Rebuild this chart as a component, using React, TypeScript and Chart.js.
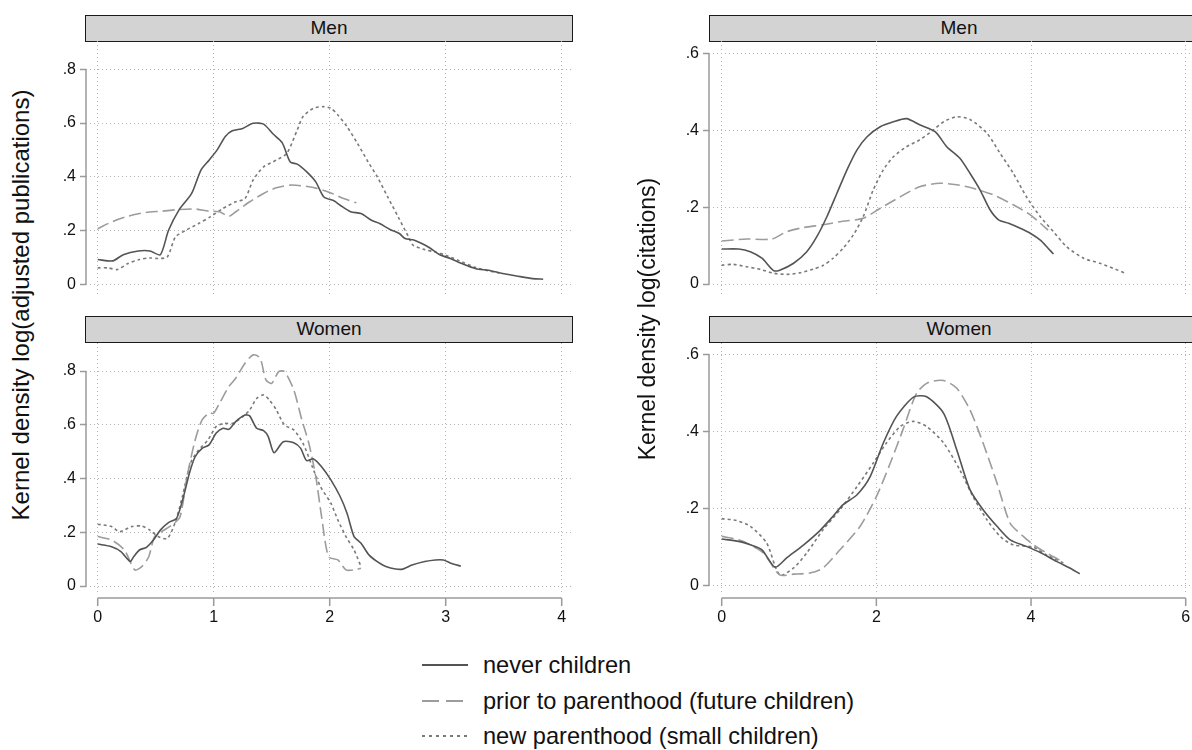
import React, { useEffect, useRef } from 'react';
import { Chart, registerables } from 'chart.js';

Chart.register(...registerables);

// ---------- labels ----------
const SERIES_LABELS = [
  'never children',
  'prior to parenthood (future children)',
  'new parenthood (small children)',
];
const PANEL_TITLES = ['Men', 'Women'];
const Y_TITLES = ['Kernel density log(adjusted publications)', 'Kernel density log(citations)'];

// ---------- ticks ----------
const PUB_X_TICKS = [0, 1, 2, 3, 4];
const PUB_X_TICK_LABELS = ['0', '1', '2', '3', '4'];
const PUB_Y_TICKS = [0, 0.2, 0.4, 0.6, 0.8];
const PUB_Y_TICK_LABELS = ['0', '.2', '.4', '.6', '.8'];
const CIT_X_TICKS = [0, 2, 4, 6];
const CIT_X_TICK_LABELS = ['0', '2', '4', '6'];
const CIT_Y_TICKS = [0, 0.2, 0.4, 0.6];
const CIT_Y_TICK_LABELS = ['0', '.2', '.4', '.6'];

// ---------- data: log(adjusted publications), men ----------
const pubMenNeverX = [0, .13, .22, .35, .45, .54, .61, .70, .81, .89, .96, 1.03, 1.10, 1.16, 1.25, 1.34, 1.43, 1.51, 1.59, 1.66, 1.72, 1.80, 1.88, 1.95, 2.04, 2.09, 2.18, 2.27, 2.36, 2.43, 2.52, 2.60, 2.65, 2.73, 2.85, 2.95, 3.04, 3.14, 3.26, 3.37, 3.49, 3.61, 3.75, 3.84];
const pubMenNeverY = [.092, .087, .11, .124, .124, .11, .20, .276, .338, .425, .462, .50, .55, .571, .58, .599, .596, .56, .527, .455, .447, .419, .381, .325, .31, .294, .27, .263, .238, .226, .204, .189, .17, .164, .139, .11, .096, .077, .058, .052, .04, .031, .021, .019];
const pubMenPriorX = [0, .12, .26, .41, .55, .70, .84, .96, 1.05, 1.13, 1.19, 1.31, 1.43, 1.54, 1.66, 1.77, 1.89, 2.01, 2.12, 2.23];
const pubMenPriorY = [.207, .232, .253, .267, .272, .278, .28, .272, .27, .253, .27, .307, .338, .359, .369, .366, .357, .34, .319, .303];
const pubMenNewX = [0, .09, .17, .26, .36, .45, .52, .60, .67, .76, .87, .97, 1.08, 1.19, 1.27, 1.34, 1.43, 1.54, 1.63, 1.72, 1.77, 1.86, 1.95, 2.01, 2.07, 2.15, 2.24, 2.33, 2.41, 2.50, 2.59, 2.68, 2.72, 2.82, 2.91, 3.0, 3.11, 3.26, 3.37, 3.46];
const pubMenNewY = [.061, .061, .055, .077, .092, .098, .096, .102, .176, .201, .226, .251, .282, .307, .319, .388, .437, .462, .487, .574, .624, .655, .661, .655, .63, .586, .524, .456, .40, .325, .251, .176, .145, .129, .12, .108, .089, .062, .05, .042];

// ---------- data: log(adjusted publications), women ----------
const pubWomenNeverX = [0, .12, .20, .28, .31, .36, .42, .48, .54, .61, .68, .74, .79, .84, .90, .96, 1.02, 1.08, 1.13, 1.19, 1.27, 1.31, 1.37, 1.43, 1.47, 1.52, 1.60, 1.69, 1.75, 1.80, 1.86, 1.93, 2.01, 2.09, 2.15, 2.21, 2.27, 2.34, 2.41, 2.49, 2.62, 2.71, 2.82, 2.91, 2.98, 3.05, 3.13];
const pubWomenNeverY = [.156, .146, .128, .091, .109, .134, .144, .171, .208, .236, .252, .333, .419, .481, .512, .525, .568, .587, .583, .612, .636, .633, .587, .578, .556, .496, .537, .533, .512, .467, .473, .444, .395, .333, .27, .184, .159, .115, .091, .072, .062, .078, .091, .097, .097, .084, .074];
const pubWomenPriorX = [0, .12, .23, .32, .38, .44, .49, .55, .64, .71, .77, .84, .90, .96, 1.0, 1.05, 1.13, 1.19, 1.27, 1.34, 1.40, 1.45, 1.50, 1.56, 1.61, 1.69, 1.76, 1.82, 1.88, 1.93, 1.99, 2.07, 2.14, 2.21, 2.27];
const pubWomenPriorY = [.184, .171, .134, .06, .072, .109, .184, .202, .227, .258, .407, .543, .618, .643, .643, .68, .742, .773, .829, .86, .848, .767, .754, .798, .798, .73, .618, .531, .407, .258, .109, .097, .06, .06, .066];
const pubWomenNewX = [0, .12, .19, .29, .38, .45, .52, .60, .67, .73, .80, .87, .95, 1.02, 1.09, 1.16, 1.25, 1.31, 1.37, 1.43, 1.48, 1.54, 1.61, 1.69, 1.77, 1.85, 1.92, 2.01, 2.07, 2.14, 2.21, 2.27];
const pubWomenNewY = [.23, .221, .202, .221, .223, .208, .184, .177, .239, .333, .457, .506, .543, .593, .605, .605, .63, .655, .698, .711, .692, .655, .599, .581, .531, .444, .37, .308, .246, .184, .134, .072];

// ---------- data: log(citations), men ----------
const citMenNeverX = [0, .22, .37, .52, .67, .75, .93, 1.10, 1.23, 1.36, 1.49, 1.62, 1.75, 1.88, 2.05, 2.22, 2.39, 2.56, 2.76, 2.91, 3.08, 3.21, 3.34, 3.47, 3.58, 3.71, 3.86, 3.99, 4.12, 4.22, 4.29];
const citMenNeverY = [.091, .091, .084, .067, .035, .036, .054, .084, .123, .175, .236, .297, .349, .383, .409, .422, .43, .414, .396, .357, .327, .288, .245, .193, .167, .158, .145, .132, .114, .093, .078];
const citMenPriorX = [0, .32, .65, .84, 1.06, 1.31, 1.53, 1.83, 2.05, 2.31, 2.56, 2.82, 3.04, 3.25, 3.51, 3.77, 3.99, 4.12, 4.22];
const citMenPriorY = [.112, .117, .117, .136, .147, .154, .162, .171, .197, .227, .253, .262, .258, .249, .232, .206, .18, .158, .14];
const citMenNewX = [0, .15, .32, .50, .67, .84, 1.01, 1.19, 1.31, 1.44, 1.57, 1.70, 1.83, 1.96, 2.09, 2.22, 2.39, 2.56, 2.74, 2.87, 3.04, 3.21, 3.43, 3.60, 3.77, 3.94, 4.12, 4.29, 4.46, 4.68, 4.89, 5.06, 5.22];
const citMenNewY = [.049, .051, .045, .038, .028, .025, .029, .039, .048, .067, .093, .127, .175, .245, .297, .331, .357, .375, .401, .422, .435, .428, .392, .34, .288, .227, .175, .136, .097, .067, .054, .041, .028];

// ---------- data: log(citations), women ----------
const citWomenNeverX = [0, .22, .37, .52, .69, .84, 1.06, 1.27, 1.44, 1.57, 1.75, 1.92, 2.09, 2.26, 2.48, 2.65, 2.87, 3.04, 3.21, 3.38, 3.56, 3.73, 3.94, 4.12, 4.33, 4.50, 4.63];
const citWomenNeverY = [.121, .115, .106, .093, .048, .072, .106, .143, .18, .21, .236, .283, .37, .439, .489, .49, .447, .352, .249, .197, .154, .119, .102, .086, .063, .046, .031];
const citWomenPriorX = [0, .22, .37, .54, .75, .93, 1.14, 1.31, 1.53, 1.79, 2.0, 2.18, 2.35, 2.52, 2.67, 2.87, 3.04, 3.21, 3.38, 3.56, 3.73, 3.90, 4.03, 4.20, 4.42];
const citWomenPriorY = [.128, .119, .106, .085, .028, .03, .033, .046, .093, .154, .231, .318, .408, .499, .527, .532, .512, .456, .37, .266, .162, .128, .106, .085, .061];
const citWomenNewX = [0, .19, .37, .58, .75, .93, 1.10, 1.31, 1.53, 1.75, 1.96, 2.13, 2.31, 2.48, 2.65, 2.87, 3.08, 3.25, 3.43, 3.60, 3.77, 4.03, 4.20, 4.42];
const citWomenNewY = [.174, .169, .154, .111, .028, .046, .085, .145, .197, .257, .318, .37, .413, .426, .413, .37, .30, .231, .171, .128, .106, .10, .08, .059];

// ---------- styles ----------
const FONT = "'Liberation Sans', Arial, Helvetica, sans-serif";
const SERIES_STYLES = [
  { color: '#545454', dash: [] as number[], legendDash: '' },
  { color: '#9c9c9c', dash: [12, 5], legendDash: '17 7' },
  { color: '#7a7a7a', dash: [3, 3], legendDash: '3 4' },
];
const GRID_COLOR = '#b4b4b4';
const AXIS_COLOR = '#9a9a9a';

const zip = (xs: number[], ys: number[]) => xs.map((x, i) => ({ x, y: ys[i] }));

const axesPlugin = {
  id: 'stataAxes',
  afterDraw(chart: any, _args: any, opts: any) {
    const { ctx, chartArea, scales } = chart;
    const xs = scales.x;
    const ys = scales.y;
    ctx.save();
    ctx.strokeStyle = AXIS_COLOR;
    ctx.lineWidth = 1.5;
    const yt = ys.ticks;
    ctx.beginPath();
    ctx.moveTo(chartArea.left, ys.getPixelForValue(yt[0].value));
    ctx.lineTo(chartArea.left, ys.getPixelForValue(yt[yt.length - 1].value));
    ctx.stroke();
    if (opts && opts.showX) {
      const yy = chartArea.bottom + 5;
      const xt = xs.ticks;
      ctx.beginPath();
      ctx.moveTo(xs.getPixelForValue(xt[0].value), yy);
      ctx.lineTo(xs.getPixelForValue(xt[xt.length - 1].value), yy);
      xt.forEach((t: any) => {
        const px = xs.getPixelForValue(t.value);
        ctx.moveTo(px, yy);
        ctx.lineTo(px, yy + 8);
      });
      ctx.stroke();
    }
    ctx.restore();
  },
};

type PanelProps = {
  series: { x: number; y: number }[][];
  left: number; top: number; width: number; height: number;
  yAxisW: number; xAxisH: number;
  xMin: number; xMax: number; yMin: number; yMax: number;
  xTicks: number[]; xLabels: string[]; yTicks: number[]; yLabels: string[];
  showX: boolean;
};

function Panel(p: PanelProps) {
  const ref = useRef<HTMLCanvasElement>(null);
  useEffect(() => {
    if (!ref.current) return;
    const zeroPad = (s: any) => {
      s.paddingTop = 0; s.paddingBottom = 0; s.paddingLeft = 0; s.paddingRight = 0;
    };
    const chart = new Chart(ref.current, {
      type: 'line',
      data: {
        datasets: p.series.map((d, i) => ({
          label: SERIES_LABELS[i],
          data: d,
          borderColor: SERIES_STYLES[i].color,
          borderDash: SERIES_STYLES[i].dash,
          borderWidth: 1.6,
          pointRadius: 0,
          fill: false,
          tension: 0.25,
        })),
      },
      options: {
        responsive: false,
        animation: false,
        devicePixelRatio: 1,
        layout: { padding: 0 },
        parsing: false as any,
        plugins: {
          legend: { display: false },
          tooltip: { enabled: false },
          title: { display: false },
          stataAxes: { showX: p.showX },
        } as any,
        scales: {
          x: {
            type: 'linear',
            min: p.xMin,
            max: p.xMax,
            bounds: 'data',
            afterBuildTicks: (s: any) => { s.ticks = p.xTicks.map((v) => ({ value: v })); },
            afterFit: (s: any) => { s.height = p.xAxisH; zeroPad(s); },
            grid: { color: GRID_COLOR, lineWidth: 1, drawTicks: false },
            border: { display: false, dash: [1, 3] },
            ticks: {
              display: p.showX,
              padding: 15,
              color: '#111',
              font: { family: FONT, size: 16 },
              maxRotation: 0,
              autoSkip: false,
              callback: (_v: any, i: number) => p.xLabels[i],
            },
          },
          y: {
            type: 'linear',
            min: p.yMin,
            max: p.yMax,
            bounds: 'data',
            afterBuildTicks: (s: any) => { s.ticks = p.yTicks.map((v) => ({ value: v })); },
            afterFit: (s: any) => { s.width = p.yAxisW; zeroPad(s); },
            grid: {
              color: GRID_COLOR, lineWidth: 1, drawTicks: true, tickLength: 6,
              tickColor: AXIS_COLOR, tickWidth: 1.5, tickBorderDash: [],
            } as any,
            border: { display: false, dash: [1, 3] },
            ticks: {
              padding: 4,
              color: '#111',
              font: { family: FONT, size: 16 },
              autoSkip: false,
              callback: (_v: any, i: number) => p.yLabels[i],
            },
          },
        },
      } as any,
      plugins: [axesPlugin as any],
    });
    return () => chart.destroy();
  }, []);
  return (
    <canvas
      ref={ref}
      width={p.width}
      height={p.height}
      style={{ position: 'absolute', left: p.left, top: p.top, width: p.width, height: p.height }}
    />
  );
}

function Header({ left, top, width, text }: { left: number; top: number; width: number; text: string }) {
  return (
    <div
      style={{
        position: 'absolute', left, top, width, height: 27, boxSizing: 'border-box',
        background: '#d3d3d3', border: '1.5px solid #1a1a1a', textAlign: 'center',
        fontFamily: FONT, fontSize: 19, lineHeight: '24px', color: '#111',
      }}
    >
      {text}
    </div>
  );
}

function YTitle({ cx, cy, size, text }: { cx: number; cy: number; size: number; text: string }) {
  return (
    <div
      style={{
        position: 'absolute', left: cx - 300, top: cy - 15, width: 600, height: 30,
        lineHeight: '30px', textAlign: 'center', transform: 'rotate(-90deg)',
        fontFamily: FONT, fontSize: size, color: '#111', whiteSpace: 'nowrap',
      }}
    >
      {text}
    </div>
  );
}

export default function App() {
  const pubMen = [zip(pubMenNeverX, pubMenNeverY), zip(pubMenPriorX, pubMenPriorY), zip(pubMenNewX, pubMenNewY)];
  const pubWomen = [zip(pubWomenNeverX, pubWomenNeverY), zip(pubWomenPriorX, pubWomenPriorY), zip(pubWomenNewX, pubWomenNewY)];
  const citMen = [zip(citMenNeverX, citMenNeverY), zip(citMenPriorX, citMenPriorY), zip(citMenNewX, citMenNewY)];
  const citWomen = [zip(citWomenNeverX, citWomenNeverY), zip(citWomenPriorX, citWomenPriorY), zip(citWomenNewX, citWomenNewY)];

  const pubCommon = {
    left: 40, width: 533, yAxisW: 46, xMin: -0.1009, xMax: 4.0974,
    xTicks: PUB_X_TICKS, xLabels: PUB_X_TICK_LABELS, yTicks: PUB_Y_TICKS, yLabels: PUB_Y_TICK_LABELS,
  };
  const citCommon = {
    left: 650, width: 548, yAxisW: 59, xMin: -0.1642, xMax: 6.159,
    xTicks: CIT_X_TICKS, xLabels: CIT_X_TICK_LABELS, yTicks: CIT_Y_TICKS, yLabels: CIT_Y_TICK_LABELS,
  };

  return (
    <div style={{ position: 'absolute', left: 0, top: 0, width: 1192, height: 750, overflow: 'hidden', background: '#fff' }}>
      <Header left={85} top={15} width={488} text={PANEL_TITLES[0]} />
      <Header left={85} top={316} width={488} text={PANEL_TITLES[1]} />
      <Header left={709} top={15} width={500} text={PANEL_TITLES[0]} />
      <Header left={709} top={316} width={500} text={PANEL_TITLES[1]} />

      <Panel {...pubCommon} series={pubMen} top={41} height={256} xAxisH={0} yMin={-0.0473} yMax={0.9053} showX={false} />
      <Panel {...pubCommon} series={pubWomen} top={343} height={290} xAxisH={40} yMin={-0.026} yMax={0.9042} showX={true} />
      <Panel {...citCommon} series={citMen} top={41} height={256} xAxisH={0} yMin={-0.0338} yMax={0.632} showX={false} />
      <Panel {...citCommon} series={citWomen} top={343} height={290} xAxisH={40} yMin={-0.0189} yMax={0.6293} showX={true} />

      <YTitle cx={21} cy={305} size={24} text={Y_TITLES[0]} />
      <YTitle cx={647} cy={319} size={23} text={Y_TITLES[1]} />

      {SERIES_LABELS.map((label, i) => {
        const cy = [665, 700.5, 736][i];
        return (
          <div key={i} style={{ position: 'absolute', left: 0, top: cy - 15, height: 30, width: 1192 }}>
            <svg width={50} height={30} style={{ position: 'absolute', left: 421, top: 0 }}>
              <line
                x1={1} y1={15} x2={47} y2={15}
                stroke={SERIES_STYLES[i].color}
                strokeWidth={2}
                strokeDasharray={SERIES_STYLES[i].legendDash || undefined}
              />
            </svg>
            <div
              style={{
                position: 'absolute', left: 483, top: 0, height: 30, lineHeight: '30px',
                fontFamily: FONT, fontSize: 23.6, color: '#111', whiteSpace: 'nowrap',
              }}
            >
              {label}
            </div>
          </div>
        );
      })}
    </div>
  );
}
